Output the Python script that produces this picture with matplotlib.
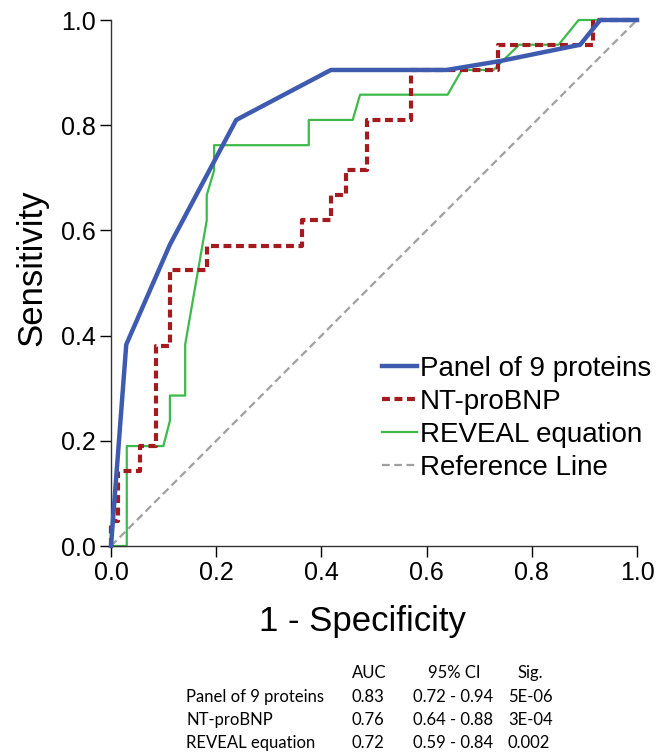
import matplotlib.pyplot as plt

# ROC curves (1 - specificity, sensitivity)
panel_x = [0.0, 0.029, 0.112, 0.238, 0.418, 0.638, 0.74, 0.892, 0.93, 1.0]
panel_y = [0.0, 0.383, 0.573, 0.810, 0.905, 0.905, 0.922, 0.953, 1.0, 1.0]

bnp_x = [0.0, 0.0, 0.014, 0.014, 0.056, 0.056, 0.086, 0.086, 0.112, 0.112,
         0.182, 0.182, 0.363, 0.363, 0.418, 0.418, 0.446, 0.446, 0.487, 0.487,
         0.570, 0.570, 0.736, 0.736, 0.917, 0.917, 1.0]
bnp_y = [0.0, 0.047, 0.047, 0.143, 0.143, 0.190, 0.190, 0.381, 0.381, 0.524,
         0.524, 0.571, 0.571, 0.619, 0.619, 0.667, 0.667, 0.714, 0.714, 0.810,
         0.810, 0.905, 0.905, 0.952, 0.952, 1.0, 1.0]

reveal_x = [0.0, 0.030, 0.030, 0.0995, 0.112, 0.112, 0.141, 0.141, 0.182, 0.182,
            0.196, 0.196, 0.376, 0.376, 0.4595, 0.4735, 0.640, 0.667, 0.727,
            0.776, 0.851, 0.889, 1.0]
reveal_y = [0.0, 0.0, 0.190, 0.190, 0.238, 0.286, 0.286, 0.383, 0.619, 0.667,
            0.714, 0.762, 0.762, 0.810, 0.810, 0.858, 0.858, 0.905, 0.905,
            0.953, 0.953, 1.0, 1.0]

ref_x = [0.0, 1.0]
ref_y = [0.0, 1.0]

table_header = ['AUC', '95% CI', 'Sig.']
table_names = ['Panel of 9 proteins', 'NT-proBNP', 'REVEAL equation']
table_auc = ['0.83', '0.76', '0.72']
table_ci = ['0.72 - 0.94', '0.64 - 0.88', '0.59 - 0.84']
table_sig = ['5E-06', '3E-04', '0.002']

plt.rcParams['font.family'] = ['Liberation Sans', 'DejaVu Sans']

W, H = 659, 754
fig = plt.figure(figsize=(W / 100, H / 100), dpi=100)
ax = fig.add_axes([111 / W, 1 - 546 / H, 526 / W, 526 / H])

ax.plot(ref_x, ref_y, color='#a0a0a0', lw=1.6, linestyle=(0, (3.5, 2)),
        label='Reference Line', zorder=1)
ax.plot(reveal_x, reveal_y, color='#3dba4b', lw=1.6,
        label='REVEAL equation', zorder=2)
ax.plot(bnp_x, bnp_y, color='#a31a1f', lw=3.0, linestyle=(0, (1.9, 1.1)),
        label='NT-proBNP', zorder=3)
ax.plot(panel_x, panel_y, color='#3f5bb0', lw=3.2,
        label='Panel of 9 proteins', zorder=4)

ax.set_xlim(0, 1)
ax.set_ylim(0, 1)
ticks = [0.0, 0.2, 0.4, 0.6, 0.8, 1.0]
ax.set_xticks(ticks)
ax.set_yticks(ticks)
ax.set_xticklabels(['%.1f' % t for t in ticks])
ax.set_yticklabels(['%.1f' % t for t in ticks])
ax.tick_params(labelsize=18, length=8, width=1, direction='out', pad=3)
for s in ['top', 'right']:
    ax.spines[s].set_visible(False)
for s in ['left', 'bottom']:
    ax.spines[s].set_linewidth(1)
    ax.spines[s].set_color('#333333')
ax.patch.set_alpha(0)
for line in ax.lines:
    line.set_clip_on(False)

fig.text(362 / W, 1 - 622 / H, '1 - Specificity', fontsize=25,
         ha='center', va='center')
fig.text(32 / W, 1 - 268 / H, 'Sensitivity', fontsize=25, rotation=90,
         ha='center', va='center')

handles, labels = ax.get_legend_handles_labels()
order = [3, 2, 1, 0]
leg = fig.legend([handles[i] for i in order], [labels[i] for i in order],
                 loc='upper left', bbox_to_anchor=(382 / W, 1 - 356 / H),
                 frameon=False, fontsize=20, handlelength=1.25,
                 handletextpad=0.1, labelspacing=0.25, borderpad=0,
                 borderaxespad=0)

tfont = dict(family=['Lato', 'DejaVu Sans'], fontsize=12, va='center')
fig.text(352 / W, 1 - 673 / H, table_header[0], ha='left', **tfont)
fig.text(428 / W, 1 - 673 / H, table_header[1], ha='left', **tfont)
fig.text(517 / W, 1 - 673 / H, table_header[2], ha='left', **tfont)
for i in range(3):
    yy = 1 - (697 + 23 * i) / H
    fig.text(186 / W, yy, table_names[i], ha='left', **tfont)
    fig.text(351 / W, yy, table_auc[i], ha='left', **tfont)
    fig.text(413 / W, yy, table_ci[i], ha='left', **tfont)
    fig.text(508 / W, yy, table_sig[i], ha='left', **tfont)

fig.savefig('out.png', dpi=100)
